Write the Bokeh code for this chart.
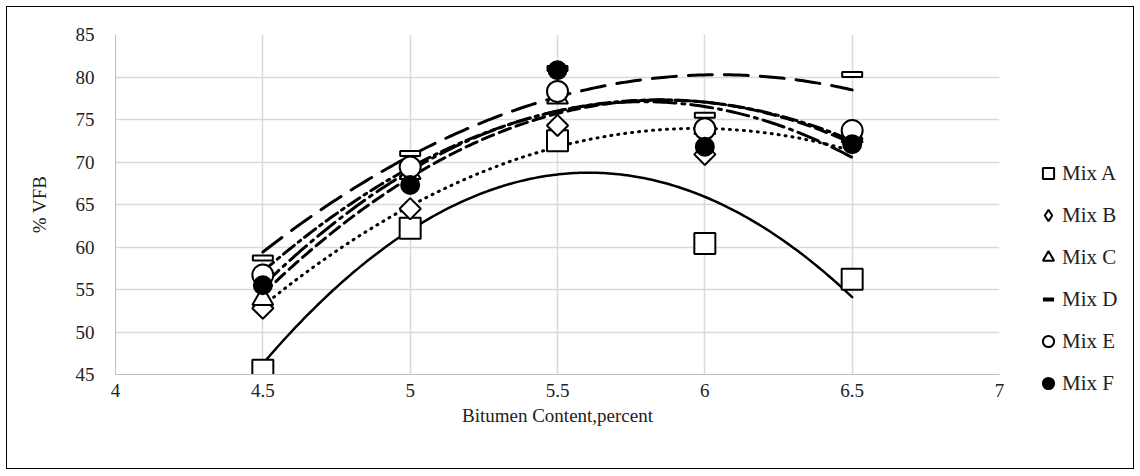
import numpy as np
from bokeh.plotting import figure
from bokeh.layouts import row
from bokeh.models import Legend, LegendItem, Range1d, FixedTicker
from bokeh.embed import file_html
from bokeh.resources import INLINE

bitumen = [4.5, 5.0, 5.5, 6.0, 6.5]
mix_a = [45.5, 62.2, 72.5, 60.4, 56.2]
mix_b = [52.8, 64.5, 74.3, 70.9, 72.4]
mix_c = [53.9, 68.7, 77.6, 74.0, 73.4]
mix_d = [58.7, 71.0, 81.0, 75.5, 80.3]
mix_e = [56.7, 69.4, 78.3, 73.9, 73.7]
mix_f = [55.5, 67.3, 80.8, 71.8, 72.1]
mix_names = ["Mix A", "Mix B", "Mix C", "Mix D", "Mix E", "Mix F"]
x_ticks = [4, 4.5, 5, 5.5, 6, 6.5, 7]
y_ticks = [45, 50, 55, 60, 65, 70, 75, 80, 85]

FONT = "Liberation Serif"

p = figure(width=1000, height=461, output_backend="svg", toolbar_location=None,
           x_range=Range1d(4, 7), y_range=Range1d(45, 85),
           min_border_left=108, min_border_right=8, min_border_top=27, min_border_bottom=94)
p.frame_align = False
p.outline_line_color = None
p.background_fill_color = "white"
p.border_fill_color = "white"

for ax in (p.xaxis[0], p.yaxis[0]):
    ax.axis_line_color = "#bfbfbf"
    ax.axis_line_width = 1
    ax.major_tick_line_color = None
    ax.minor_tick_line_color = None
    ax.major_label_text_font = FONT
    ax.major_label_text_font_size = "19px"
    ax.major_label_text_color = "#222222"
    ax.axis_label_text_font = FONT
    ax.axis_label_text_font_size = "19px"
    ax.axis_label_text_font_style = "normal"
    ax.axis_label_text_color = "#222222"

p.xaxis.ticker = FixedTicker(ticks=x_ticks)
p.yaxis.ticker = FixedTicker(ticks=y_ticks)
p.xaxis.axis_label = "Bitumen Content,percent"
p.yaxis.axis_label = "% VFB"
p.xaxis.major_label_standoff = 3
p.yaxis.major_label_standoff = 15
p.xaxis.axis_label_standoff = 5
p.yaxis.axis_label_standoff = 23
p.xgrid.ticker = FixedTicker(ticks=x_ticks)
p.ygrid.ticker = FixedTicker(ticks=y_ticks)
p.xgrid.grid_line_color = "#d9d9d9"
p.ygrid.grid_line_color = "#d9d9d9"
p.xgrid.grid_line_width = 1.5
p.ygrid.grid_line_width = 1.5

# trendlines (2nd order polynomial fits of each series)
xs = np.linspace(bitumen[0], bitumen[-1], 200)
styles = [
    (mix_a, "solid", 2.5),
    (mix_b, "1 6", 3),
    (mix_c, "12 6", 3),
    (mix_d, "24 12", 3),
    (mix_e, "14 5 3 5", 3),
    (mix_f, "22 6 3 6", 3),
]
for series, dash, lw in styles:
    coef = np.polyfit(bitumen, series, 2)
    p.line(xs, np.polyval(coef, xs), line_color="black", line_width=lw,
           line_dash=dash, line_cap="round")

p.scatter(bitumen, mix_a, marker="square", size=21, fill_color="white",
          line_color="black", line_width=2)
p.scatter(bitumen, mix_b, marker="square", angle=np.pi / 4, size=15,
          fill_color="white", line_color="black", line_width=2)
p.scatter(bitumen, mix_c, marker="triangle", size=21, fill_color="white",
          line_color="black", line_width=2)
p.rect(bitumen, mix_d, width=20, height=5, width_units="screen",
       height_units="screen", fill_color="white", line_color="black", line_width=2)
p.scatter(bitumen, mix_e, marker="circle", size=21, fill_color="white",
          line_color="black", line_width=2)
p.scatter(bitumen, mix_f, marker="circle", size=18, fill_color="black",
          line_color="black", line_width=2)

# legend panel (separate figure so the legend can sit right of the plot area)
lg = figure(width=126, height=461, output_backend="svg", toolbar_location=None,
            x_range=Range1d(0, 1), y_range=Range1d(0, 1),
            x_axis_location=None, y_axis_location=None,
            min_border_left=0, min_border_right=0, min_border_top=0, min_border_bottom=0)
lg.frame_align = False
lg.grid.visible = False
lg.outline_line_color = None
lg.border_fill_color = "white"
off = [-5]
markers = [("square", "white", 2), ("diamond", "white", 2), ("triangle", "white", 2),
           ("dash", "black", 4), ("circle", "white", 2), ("circle", "black", 2)]
items = []
for name, (mk, fc, lw) in zip(mix_names, markers):
    r = lg.scatter(off, off, marker=mk, size=10, fill_color=fc, line_color="black",
                   line_width=lw)
    items.append(LegendItem(label=name, renderers=[r]))

legend = Legend(items=items, location=(27, 69))
legend.label_text_font = FONT
legend.label_text_font_size = "21px"
legend.label_text_color = "#222222"
legend.glyph_width = 28
legend.glyph_height = 32
legend.label_height = 32
legend.spacing = 10
legend.label_standoff = 0
legend.padding = 0
legend.margin = 0
legend.border_line_color = None
legend.background_fill_alpha = 0
lg.add_layout(legend)

layout = row(p, lg, spacing=0)
layout.styles = {"border": "1px solid black", "margin-left": "6px", "margin-top": "6px"}

open("out.html", "w").write(file_html(layout, INLINE))
